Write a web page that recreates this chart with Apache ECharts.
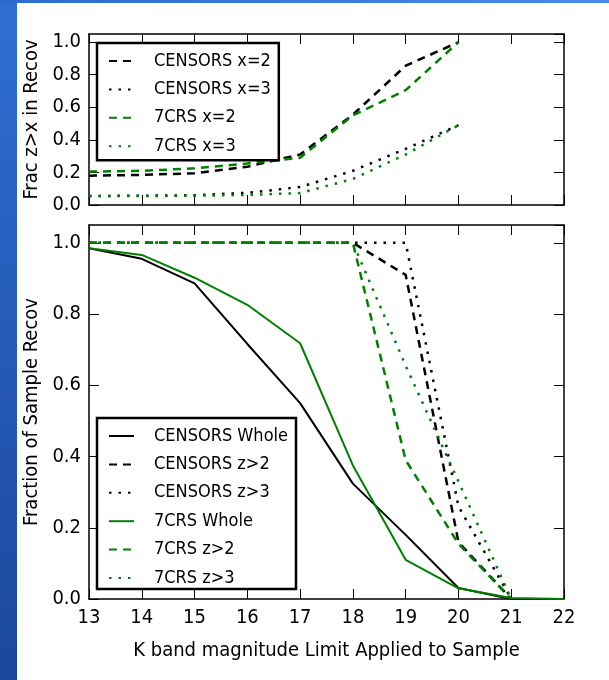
<!DOCTYPE html>
<html><head><meta charset="utf-8">
<script src="https://cdn.jsdelivr.net/npm/echarts@6/dist/echarts.min.js"></script>
<style>html,body{margin:0;padding:0;background:#fff}#c{width:609px;height:680px}</style>
</head><body><div id="c"></div>
<script>
// ---- data ----
const kTop = [13, 14, 15, 16, 17, 18, 19, 20];
const censorsX2 = [0.18, 0.185, 0.195, 0.235, 0.31, 0.555, 0.855, 1.0];
const censorsX3 = [0.055, 0.057, 0.06, 0.075, 0.11, 0.21, 0.345, 0.49];
const crsX2 = [0.205, 0.21, 0.225, 0.255, 0.29, 0.55, 0.705, 1.0];
const crsX3 = [0.055, 0.055, 0.057, 0.062, 0.073, 0.16, 0.31, 0.49];

const kWhole = [13, 14, 15, 16, 17, 18, 19, 20, 21, 22];
const censorsWhole = [0.985, 0.955, 0.886, 0.716, 0.55, 0.324, 0.18, 0.031, 0.0, 0.0];
const crsWhole = [0.985, 0.966, 0.902, 0.826, 0.718, 0.375, 0.11, 0.03, 0.003, 0.0];
const kZ = [13, 14, 15, 16, 17, 18, 19, 20, 21];
const censorsZ2 = [1, 1, 1, 1, 1, 1, 0.91, 0.16, 0];
const censorsZ3 = [1, 1, 1, 1, 1, 1, 1, 0.26, 0];
const crsZ2 = [1, 1, 1, 1, 1, 1, 0.39, 0.155, 0];
const crsZ3 = [1, 1, 1, 1, 1, 1, 0.655, 0.33, 0];

const xTicks = [13, 14, 15, 16, 17, 18, 19, 20, 21, 22];
const yTicks = [0.0, 0.2, 0.4, 0.6, 0.8, 1.0];
const topLegend = ['CENSORS x=2', 'CENSORS x=3', '7CRS x=2', '7CRS x=3'];
const bottomLegend = ['CENSORS Whole', 'CENSORS z>2', 'CENSORS z>3', '7CRS Whole', '7CRS z>2', '7CRS z>3'];

// ---- styles ----
const FONT = '"DejaVu Sans Condensed", "DejaVu Sans", sans-serif';
const BLACK = '#000000', GREEN = '#008000';
const DASH = [8, 6], DOT = [2.5, 7];
const pairs = (xs, ys) => xs.map((x, i) => [x, ys[i]]);

function xAx(grid, pos, labels, name) {
  return {
    type: 'value', gridIndex: grid, position: pos, min: xTicks[0], max: xTicks[xTicks.length - 1], interval: 1,
    axisLine: { onZero: false, lineStyle: { color: '#000', width: 1.5 } },
    axisTick: { inside: true, length: 10, lineStyle: { color: '#000', width: 1 } },
    axisLabel: { show: labels, margin: 9, color: '#000', fontSize: 20, fontFamily: FONT },
    splitLine: { show: false },
    name: name || '', nameLocation: 'middle', nameGap: 42,
    nameTextStyle: { color: '#000', fontSize: 20, fontFamily: FONT }
  };
}
function yAx(grid, pos, labels, name) {
  return {
    type: 'value', gridIndex: grid, position: pos, min: yTicks[0], max: 1.05, interval: 0.2,
    axisLine: { onZero: false, lineStyle: { color: '#000', width: 1.5 } },
    axisTick: { inside: true, length: 10, lineStyle: { color: '#000', width: 1 } },
    axisLabel: {
      show: labels, margin: 8, color: '#000', fontSize: 20, fontFamily: FONT,
      showMaxLabel: false,
      formatter: v => (Math.abs(v * 5 - Math.round(v * 5)) < 1e-6 ? v.toFixed(1) : '')
    },
    splitLine: { show: false },
    name: name || '', nameLocation: 'middle', nameGap: 47,
    nameTextStyle: { color: '#000', fontSize: 20, fontFamily: FONT }
  };
}
function line(name, xs, ys, color, type, width, xi, yi) {
  return {
    type: 'line', name, data: pairs(xs, ys), xAxisIndex: xi, yAxisIndex: yi,
    symbol: 'none', silent: true, animation: false,
    lineStyle: { color, type, width }, itemStyle: { color }
  };
}
function legendBox(names, top, padding) {
  return {
    data: names, orient: 'vertical', left: 97, top,
    itemWidth: 25, itemHeight: 16, itemGap: 10.4,
    padding, borderColor: '#000', borderWidth: 2.5, backgroundColor: '#fff',
    itemStyle: { opacity: 0 },
    textStyle: { color: '#000', fontSize: 18, fontFamily: FONT, padding: [0, 0, 0, 15], lineHeight: 16 },
    selectedMode: false
  };
}

const chart = echarts.init(document.getElementById('c'), null, { renderer: 'canvas' });
chart.setOption({
  animation: false,
  backgroundColor: '#ffffff',
  graphic: [
    { type: 'rect', shape: { x: 0, y: 0, width: 17, height: 680 },
      style: { fill: { type: 'linear', x: 0, y: 0, x2: 0, y2: 1,
        colorStops: [{ offset: 0, color: '#2f6fd4' }, { offset: 1, color: '#1b479b' }] } } },
    { type: 'rect', shape: { x: 0, y: 0, width: 609, height: 3 },
      style: { fill: { type: 'linear', x: 0, y: 0, x2: 1, y2: 0,
        colorStops: [{ offset: 0, color: '#2d6bd0' }, { offset: 1, color: '#4a8ae6' }] } } }
  ],
  grid: [
    { left: 89, right: 45, top: 34, height: 171 },
    { left: 89, right: 45, top: 225, height: 374 }
  ],
  xAxis: [
    xAx(0, 'bottom', false), xAx(0, 'top', false),
    xAx(1, 'bottom', true, 'K band magnitude Limit Applied to Sample'), xAx(1, 'top', false)
  ],
  yAxis: [
    yAx(0, 'left', true, 'Frac z>x in Recov'), yAx(0, 'right', false),
    yAx(1, 'left', true, 'Fraction of Sample Recov'), yAx(1, 'right', false)
  ],
  legend: [
    legendBox(topLegend, 43, [9, 8, 5, 11]),
    legendBox(bottomLegend, 418, [9, 8, 2, 11])
  ],
  series: [
    line('CENSORS x=2', kTop, censorsX2, BLACK, DASH, 2.5, 0, 0),
    line('CENSORS x=3', kTop, censorsX3, BLACK, DOT, 2.5, 0, 0),
    line('7CRS x=2', kTop, crsX2, GREEN, DASH, 2.5, 0, 0),
    line('7CRS x=3', kTop, crsX3, GREEN, DOT, 2.5, 0, 0),
    line('CENSORS Whole', kWhole, censorsWhole, BLACK, 'solid', 2, 2, 2),
    line('CENSORS z>2', kZ, censorsZ2, BLACK, DASH, 2.5, 2, 2),
    line('CENSORS z>3', kZ, censorsZ3, BLACK, DOT, 2.5, 2, 2),
    line('7CRS Whole', kWhole, crsWhole, GREEN, 'solid', 2, 2, 2),
    line('7CRS z>2', kZ, crsZ2, GREEN, DASH, 2.5, 2, 2),
    line('7CRS z>3', kZ, crsZ3, GREEN, DOT, 2.5, 2, 2)
  ]
});
</script>
</body></html>
